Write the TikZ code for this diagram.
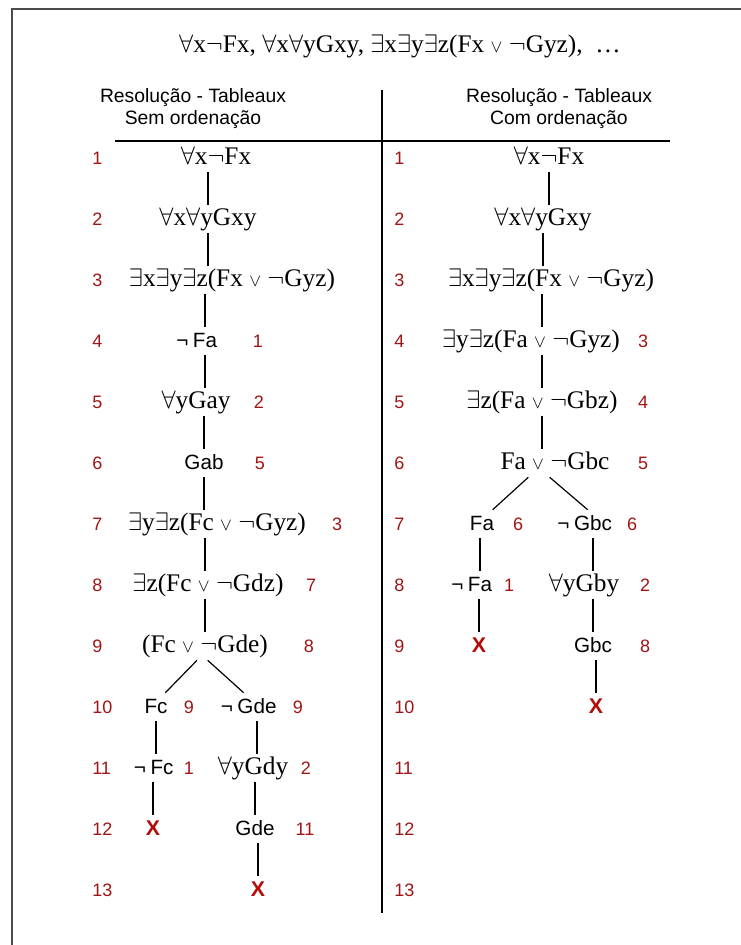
\RequirePackage{fix-cm}
\documentclass[tikz,border=0pt]{standalone}
\usepackage{fontspec}
\setmainfont{Liberation Serif}
\newfontfamily\arial{Liberation Sans}
\definecolor{numred}{RGB}{160,20,20}
\definecolor{xred}{RGB}{180,10,10}
\newcommand\fAll{\ensuremath{\forall}}
\newcommand\fEx{\ensuremath{\exists}}
\newcommand\fNeg{\ensuremath{\neg}}
\newcommand\fOr{\ensuremath{\scriptstyle\vee}}

\begin{document}
\begin{tikzpicture}[x=0.75pt, y=-0.75pt,
    fml/.style={font=\fontsize{19}{22}\selectfont, inner sep=1.5pt, text height=14pt, text depth=4pt},
    lbl/.style={font=\arial\fontsize{15.5}{18}\selectfont, inner sep=1.5pt, text height=14pt, text depth=4pt},
    cls/.style={lbl, font=\arial\bfseries\fontsize{16}{18}\selectfont, text=xred},
    num/.style={lbl, font=\arial\fontsize{13.5}{15}\selectfont, text=numred},
    neg/.style={label={[lbl]left:¬}},
    hdr/.style={font=\arial\fontsize{14.5}{16.5}\selectfont, align=center},
    tline/.style={line width=0.9pt}]
    \useasboundingbox (0,0) rectangle (741,945);

    % moldura e divisorias
    \draw[line width=1.5pt, gray!60!black] (12,945) -- (12,9) -- (741,9);
    \draw[line width=1.4pt] (382,90) -- (382,913);
    \draw[line width=0.8pt] (115,141) -- (670,141);

    % titulo e cabecalhos
    \node[fml] (titulo) at (400,46) {\fAll x\fNeg Fx, \fAll x\fAll yGxy, \fEx x\fEx y\fEx z(Fx \fOr{} \fNeg Gyz),\ \ \dots};
    \node[hdr] (cabE) at (193,109) {Resolução - Tableaux\\Sem ordenação};
    \node[hdr] (cabD) at (559,109) {Resolução - Tableaux\\Com ordenação};

    % numeros das linhas
    \foreach \r in {1,...,13} {
        \node[num, anchor=west] (nl\r) at (90, {158+61*(\r-1)}) {\r};
        \node[num, anchor=west] (nr\r) at (392, {158+61*(\r-1)}) {\r};
    }

    % sem ordenacao
    \node[fml] (l1) at (216,158) {\fAll x\fNeg Fx};
    \node[fml] (l2) at (208,219) {\fAll x\fAll yGxy};
    \node[fml] (l3) at (232,280) {\fEx x\fEx y\fEx z(Fx \fOr{} \fNeg Gyz)};
    \node[lbl, neg] (l4) at (205,341) {Fa};
    \node[num] (l4n) at (258,341) {1};
    \node[fml] (l5) at (196,402) {\fAll yGay};
    \node[num] (l5n) at (259,402) {2};
    \node[lbl] (l6) at (204,463) {Gab};
    \node[num] (l6n) at (260,463) {5};
    \node[fml] (l7) at (217,524) {\fEx y\fEx z(Fc \fOr{} \fNeg Gyz)};
    \node[num] (l7n) at (337,524) {3};
    \node[fml] (l8) at (208,585) {\fEx z(Fc \fOr{} \fNeg Gdz)};
    \node[num] (l8n) at (311,585) {7};
    \node[fml] (l9) at (205,646) {(Fc \fOr{} \fNeg Gde)};
    \node[num] (l9n) at (309,646) {8};
    \node[lbl] (l10a) at (156,707) {Fc};
    \node[num] (l10an) at (189,707) {9};
    \node[lbl, neg] (l10b) at (257,707) {Gde};
    \node[num] (l10bn) at (298,707) {9};
    \node[lbl, neg] (l11a) at (162,768) {Fc};
    \node[num] (l11an) at (189,768) {1};
    \node[fml] (l11b) at (253,768) {\fAll yGdy};
    \node[num] (l11bn) at (306,768) {2};
    \node[cls] (l12a) at (153,829) {X};
    \node[lbl] (l12b) at (255,829) {Gde};
    \node[num] (l12bn) at (305,829) {11};
    \node[cls] (l13b) at (258,890) {X};

    \draw[tline] (l1.south -| l2) -- (l2.north);
    \draw[tline] (l2.south) -- (l2.south |- l3.north);
    \draw[tline] (l3.south -| l4) -- (l4.north);
    \draw[tline] (l4.south) -- (l5.north -| l4);
    \draw[tline] (l5.south -| l6) -- (l6.north);
    \draw[tline] (l6.south) -- (l7.north -| l6);
    \draw[tline] (l7.south -| l9) -- (l8.north -| l9);
    \draw[tline] (l8.south -| l9) -- (l9.north);
    \draw[tline] ([xshift=-6pt]l9.south) -- ([xshift=7pt]l10a.north);
    \draw[tline] ([xshift=2pt]l9.south) -- ([xshift=-10pt]l10b.north);
    \draw[tline] (l10a.south) -- (l11a.north -| l10a);
    \draw[tline] (l11a.south -| l12a) -- (l12a.north);
    \draw[tline] (l10b.south) -- (l11b.north -| l10b);
    \draw[tline] (l11b.south -| l12b) -- (l12b.north);
    \draw[tline] (l12b.south -| l13b) -- (l13b.north);

    % com ordenacao
    \node[fml] (r1) at (549,158) {\fAll x\fNeg Fx};
    \node[fml] (r2) at (543,219) {\fAll x\fAll yGxy};
    \node[fml] (r3) at (551,280) {\fEx x\fEx y\fEx z(Fx \fOr{} \fNeg Gyz)};
    \node[fml] (r4) at (531,341) {\fEx y\fEx z(Fa \fOr{} \fNeg Gyz)};
    \node[num] (r4n) at (643,341) {3};
    \node[fml] (r5) at (542,402) {\fEx z(Fa \fOr{} \fNeg Gbz)};
    \node[num] (r5n) at (643,402) {4};
    \node[fml] (r6) at (555,463) {Fa \fOr{} \fNeg Gbc};
    \node[num] (r6n) at (643,463) {5};
    \node[lbl] (r7a) at (482,524) {Fa};
    \node[num] (r7an) at (518,524) {6};
    \node[lbl, neg] (r7b) at (593,524) {Gbc};
    \node[num] (r7bn) at (632,524) {6};
    \node[lbl, neg] (r8a) at (480,585) {Fa};
    \node[num] (r8an) at (509,585) {1};
    \node[fml] (r8b) at (584,585) {\fAll yGby};
    \node[num] (r8bn) at (645,585) {2};
    \node[cls] (r9a) at (479,646) {X};
    \node[lbl] (r9b) at (593,646) {Gbc};
    \node[num] (r9bn) at (645,646) {8};
    \node[cls] (r10b) at (596,707) {X};

    \draw[tline] (r1.south) -- (r1.south |- r2.north);
    \draw[tline] (r2.south) -- (r2.south |- r3.north);
    \draw[tline] (r3.south -| r5) -- (r4.north -| r5);
    \draw[tline] (r4.south -| r5) -- (r5.north);
    \draw[tline] (r5.south) -- (r5.south |- r6.north);
    \draw[tline] ([xshift=-20pt]r6.south) -- ([xshift=8pt]r7a.north);
    \draw[tline] ([xshift=-4pt]r6.south) -- ([xshift=-4pt]r7b.north);
    \draw[tline] (r7a.south -| r8a) -- (r8a.north);
    \draw[tline] (r8a.south -| r9a) -- (r9a.north);
    \draw[tline] (r7b.south) -- (r8b.north -| r7b);
    \draw[tline] (r8b.south -| r9b) -- (r9b.north);
    \draw[tline] (r9b.south -| r10b) -- (r10b.north);
\end{tikzpicture}
\end{document}
